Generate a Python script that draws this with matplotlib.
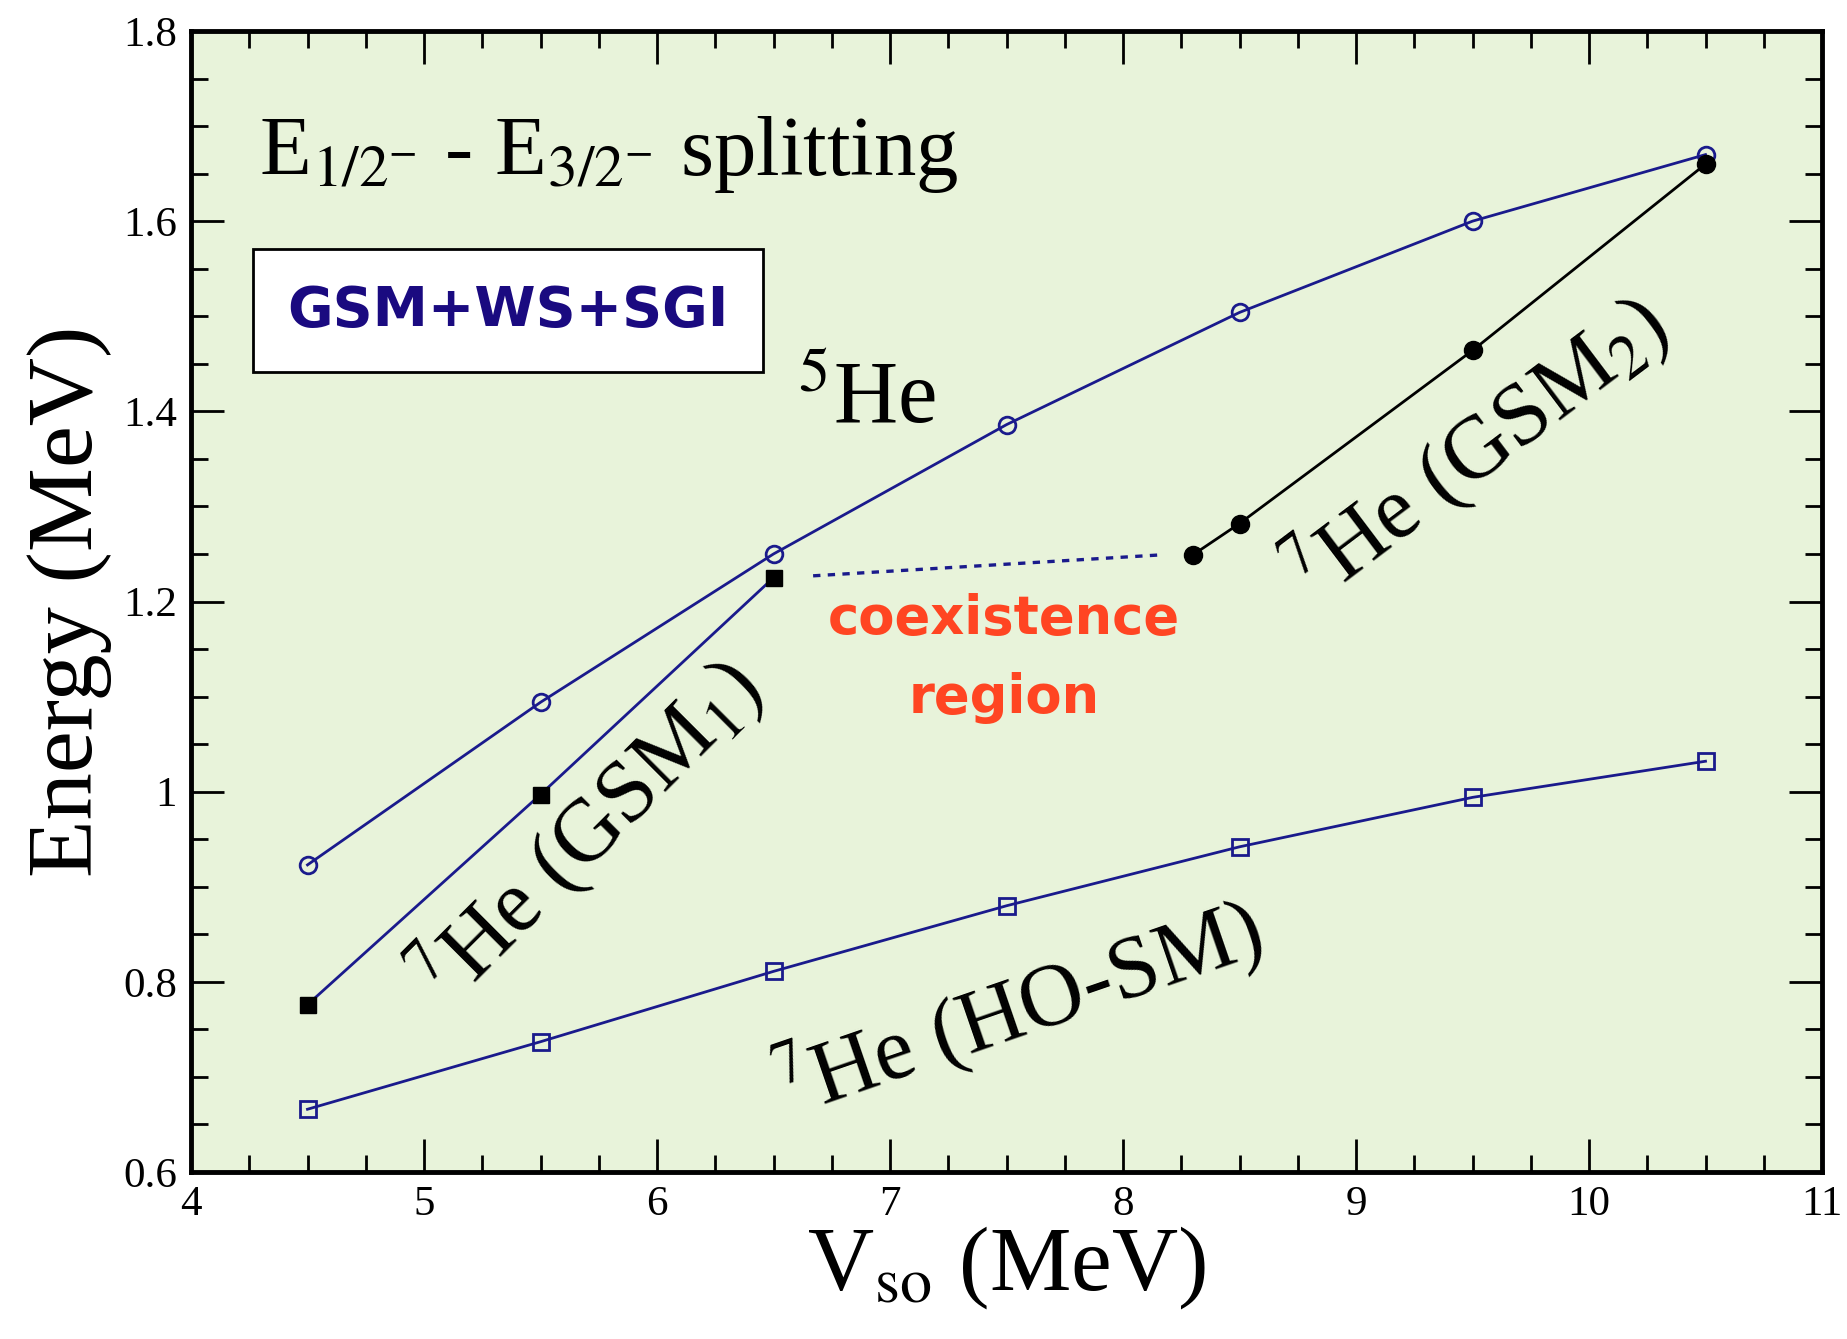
import matplotlib
matplotlib.use("Agg")
import matplotlib.pyplot as plt
from matplotlib.ticker import MultipleLocator, FixedLocator

plt.rcParams['font.family'] = 'serif'
plt.rcParams['font.serif'] = ['Liberation Serif', 'DejaVu Serif']
plt.rcParams['mathtext.fontset'] = 'stix'

# ---- data ----
x_he5 = [4.5, 5.5, 6.5, 7.5, 8.5, 9.5, 10.5]
y_he5 = [0.923, 1.094, 1.250, 1.386, 1.504, 1.600, 1.670]

x_gsm1 = [4.5, 5.5, 6.5]
y_gsm1 = [0.776, 0.997, 1.225]

x_gsm2 = [8.3, 8.5, 9.5, 10.5]
y_gsm2 = [1.249, 1.282, 1.464, 1.660]

x_hosm = [4.5, 5.5, 6.5, 7.5, 8.5, 9.5, 10.5]
y_hosm = [0.666, 0.737, 0.811, 0.880, 0.942, 0.994, 1.032]

x_coex = [6.67, 8.16]
y_coex = [1.227, 1.249]

xticks = [4, 5, 6, 7, 8, 9, 10, 11]
xticklabels = ['4', '5', '6', '7', '8', '9', '10', '11']
yticks = [0.6, 0.8, 1.0, 1.2, 1.4, 1.6, 1.8]
yticklabels = ['0.6', '0.8', '1', '1.2', '1.4', '1.6', '1.8']

navy = '#1a1a8c'
bg = '#e8f3da'

fig = plt.figure(figsize=(18.47, 13.39), dpi=100)
ax = fig.add_axes([191/1847, 1 - 1172/1339, (1822-191)/1847, (1172-31)/1339])
ax.set_facecolor(bg)

ax.plot(x_he5, y_he5, '-', color=navy, lw=2, marker='o', ms=12, mfc='none', mec=navy, mew=2)
ax.plot(x_gsm1, y_gsm1, '-', color=navy, lw=2, marker='s', ms=12, mfc='black', mec='black')
ax.plot(x_gsm2, y_gsm2, '-', color='black', lw=2, marker='o', ms=13, mfc='black', mec='black')
ax.plot(x_hosm, y_hosm, '-', color=navy, lw=2, marker='s', ms=11, mfc='none', mec=navy, mew=2)
ax.plot(x_coex, y_coex, linestyle=(0, (2.2, 2.2)), color=navy, lw=2.4)

ax.set_xlim(4, 11)
ax.set_ylim(0.6, 1.8)
ax.xaxis.set_major_locator(FixedLocator(xticks))
ax.set_xticklabels(xticklabels)
ax.yaxis.set_major_locator(FixedLocator(yticks))
ax.set_yticklabels(yticklabels)
ax.xaxis.set_minor_locator(MultipleLocator(0.25))
ax.yaxis.set_minor_locator(MultipleLocator(0.05))
ax.tick_params(which='both', direction='in', top=True, right=True, width=2)
ax.tick_params(which='major', length=24, labelsize=31, pad=10)
ax.tick_params(which='minor', length=12)
for s in ax.spines.values():
    s.set_linewidth(3.5)

ax.set_xlabel(r'V$_{\mathrm{so}}$ (MeV)', fontsize=66, labelpad=0)
ax.set_ylabel('Energy (MeV)', fontsize=68, labelpad=8)

ax.text(4.29, 1.649, r'E$_{1/2^{-}}$ - E$_{3/2^{-}}$ splitting', fontsize=61,
        ha='left', va='baseline')

ax.text(5.36, 1.506, 'GSM+WS+SGI', fontsize=40, fontweight='bold', color='#1a0a80',
        family='DejaVu Sans', ha='center', va='center',
        bbox=dict(boxstyle='square,pad=0.62', fc='white', ec='black', lw=2))

ax.text(6.90, 1.41, r'$^{5}$He', fontsize=64, ha='center', va='center')
ax.text(5.70, 0.957, r'$^{7}$He (GSM$_{1}$)', fontsize=64, ha='center', va='center',
        rotation=45, rotation_mode='anchor')
ax.text(9.52, 1.36, r'$^{7}$He (GSM$_{2}$)', fontsize=64, ha='center', va='center',
        rotation=37, rotation_mode='anchor')
ax.text(7.55, 0.772, r'$^{7}$He (HO-SM)', fontsize=64, ha='center', va='center',
        rotation=19, rotation_mode='anchor')

ax.text(7.49, 1.182, 'coexistence', fontsize=38, fontweight='bold', color='#ff4522',
        family='DejaVu Sans', ha='center', va='center')
ax.text(7.49, 1.099, 'region', fontsize=38, fontweight='bold', color='#ff4522',
        family='DejaVu Sans', ha='center', va='center')

fig.savefig('out.png', dpi=100)
